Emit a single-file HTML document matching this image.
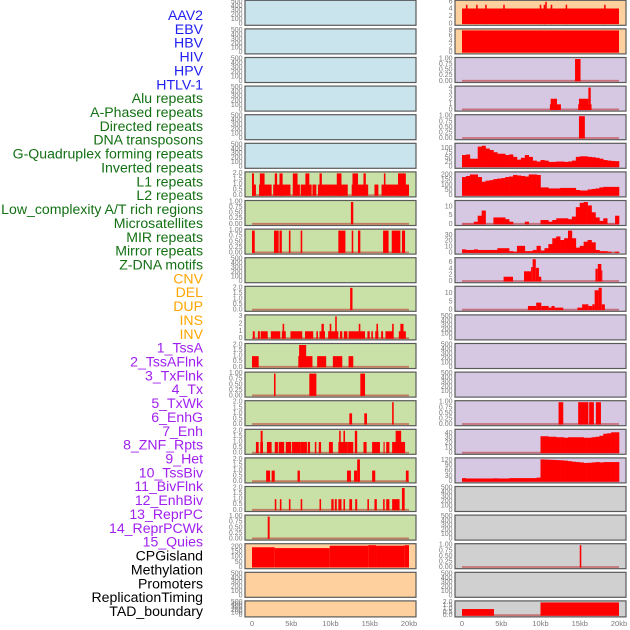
<!DOCTYPE html>
<html><head><meta charset="utf-8"><style>
body{margin:0;background:#fff;}
svg{display:block;font-family:"Liberation Sans",sans-serif;}
</style></head><body>
<svg id="chart" width="630" height="630" viewBox="0 0 630 630" xmlns="http://www.w3.org/2000/svg"></svg>
<script>
// ---------- track labels ----------
const trackLabels = ["AAV2","EBV","HBV","HIV","HPV","HTLV-1","Alu repeats","A-Phased repeats","Directed repeats","DNA transposons","G-Quadruplex forming repeats","Inverted repeats","L1 repeats","L2 repeats","Low_complexity A/T rich regions","Microsatellites","MIR repeats","Mirror repeats","Z-DNA motifs","CNV","DEL","DUP","INS","INV","1_TssA","2_TssAFlnk","3_TxFlnk","4_Tx","5_TxWk","6_EnhG","7_Enh","8_ZNF_Rpts","9_Het","10_TssBiv","11_BivFlnk","12_EnhBiv","13_ReprPC","14_ReprPCWk","15_Quies","CPGisland","Methylation","Promoters","ReplicationTiming","TAD_boundary"];
const labelGroups = [6,13,5,15,5]; // blue, green, orange, purple, black
const labelColors = ["#2020f0","#137013","#ffa500","#a020f0","#000000"];

// ---------- x axis ----------
const xTickValues = [0,5,10,15,20];
const xTickLabels = ["0","5kb","10kb","15kb","20kb"];

// ---------- tick sets ----------
const t500 = [0,100,200,300,400,500];
const t500L = ["0","100","200","300","400","500"];
const t1 = [0,0.25,0.5,0.75,1];
const t1L = ["0.00","0.25","0.50","0.75","1.00"];
const t2 = [0,0.5,1,1.5,2];
const t2L = ["0.0","0.5","1.0","1.5","2.0"];

// ---------- left column segment data [startKb, endKb, value] ----------
const segAlu = [[0,0.5,1],[0,0.25,2],[0.9,2.5,1],[1.0,1.6,2],[2.7,4.9,1],[2.9,3.2,2],[3.5,3.9,2],[5.2,6.1,1],[5.2,5.8,2],[6.2,7.6,1],[6.8,7.3,2],[7.7,8.2,1],[8.4,12.2,1],[8.6,8.9,2],[10.8,11.4,2],[12.7,14.8,1],[12.8,13.5,2],[14.2,14.5,2],[15.6,16.1,1],[16.5,20,1],[16.8,17.0,2],[18.6,19.6,2]];
const segLowComp = [[12.6,12.9,1]];
const segMicro = [[0,0.35,1],[2.8,3.4,1],[3.5,3.8,1],[4.7,4.9,1],[6.2,6.4,1],[11,11.9,1],[12.7,12.9,1],[13.5,13.8,1],[16.7,17.4,1],[17.8,18.9,1],[19.1,19.5,1]];
const segMirror = [[12.5,12.8,2]];
const segZdna = [[0.1,0.35,1],[0.75,1,1],[1.1,2,1],[2.4,3.6,1],[3.8,4.3,1],[3.9,4.1,2],[4.9,6.4,1],[6.75,7.8,1],[8.2,8.4,1],[8.6,9.3,1],[8.85,9.15,2],[9.7,11,1],[9.9,10.1,2],[10.6,10.8,3],[11.2,11.5,1],[11.7,12.15,1],[12.3,14.4,1],[13.6,13.8,2],[14.7,15,1],[15.2,15.4,1],[15.7,16.1,1],[15.85,16.05,2],[16.45,16.7,1],[17,18,1],[17.85,18.05,2],[18.7,19.6,1],[18.9,19.3,2]];
const segCNV = [[0,0.85,1],[5.9,7.7,1],[6,6.9,2],[8.3,9.45,1],[10.3,11.5,1],[12.3,12.9,1]];
const segDEL = [[2.8,3.0,1],[7.3,8.2,1],[13.8,14.4,1]];
const segDUP = [[12.4,12.75,1],[14.3,14.65,1],[17.85,18.05,2]];
const segINS = [[0.5,0.85,1],[1.05,1.4,1],[1.1,1.35,2],[1.9,2.5,1],[2.9,3.3,1],[3.4,4.1,1],[4.3,5.0,1],[5.1,6.2,1],[6.2,7.0,1],[7.1,7.4,1],[8.0,8.2,1],[8.5,8.8,1],[9.8,10.3,1],[11,12.2,1],[11.1,11.3,2],[11.65,11.85,2],[12.2,12.9,1],[13.1,13.4,2],[14.2,14.6,1],[15.3,16.3,1],[16.75,16.9,1],[17.1,17.5,1],[17.85,19.5,1],[18.3,19.0,2]];
const segINV = [[1.8,2.3,1],[2.5,2.9,1],[5.8,6.1,1],[12.1,12.6,1],[13,13.4,1],[13.4,13.75,2],[15.3,15.7,1],[19.6,19.95,1]];
const segTssA = [[2.9,3.1,1],[3.55,3.75,1],[4.7,4.9,1],[6.2,6.4,1],[8.6,8.8,1],[10.1,10.4,1],[10.55,10.8,1],[11,11.4,1],[11.65,11.85,1],[12.4,12.75,1],[13.15,13.4,1],[14.7,14.9,1],[15.6,15.9,1],[16.7,16.9,1],[17.1,17.5,1],[17.85,18.8,1],[19.1,19.45,2]];
const segTssAFlnk = [[2,2.25,1]];
const segTxFlnk = [[0,2.9,195],[2.9,9.9,187],[9.9,14.8,210],[14.8,15.8,215],[15.8,19.4,210],[19.4,20,215]];

// ---------- right column data ----------
const segR0 = [[0,20,4.2],[0.5,0.7,5.2],[1.8,2.0,5.2],[2.95,3.15,5.2],[5.25,5.45,5.2],[9.9,10.1,5.2],[10.4,10.6,5.2],[10.6,10.8,6],[11.3,11.5,5.2],[13.2,13.4,5.2],[18.1,18.3,5.2]];
const segR1 = [[0,20,8]];
const segR2 = [[14.4,15.1,1]];
const segR3 = [[11.2,12.6,1],[11.3,12.1,2],[14.8,16.5,1],[14.9,16.1,2],[16.1,16.4,4]];
const segR4 = [[14.9,15.65,1]];
const binsR5 = [65,68,45,45,110,115,100,92,80,72,72,65,68,55,40,50,65,55,35,30,38,35,28,28,30,30,28,30,35,55,58,58,55,53,50,45,38,35,33,32];
const binsR6 = [180,190,205,205,180,135,145,150,160,165,170,180,185,200,195,190,185,205,205,200,80,80,70,70,70,75,75,75,75,55,50,50,60,65,70,80,85,85,85,85];
const binsR7 = [0.3,0.3,0.3,1.5,5,8,0,0,4,4,4,3,1.5,0,0,0,1.5,0,0,0,2.5,2.5,1.5,2.5,3.5,3.5,3.5,3,4.5,10,12.5,13,11,7,4,2,3.5,0.3,0.3,5];
const binsR8 = [6,5,5,6,5,5,5,5,5,8,8,8,3,2,12,12,3,3,5,12,4,8,15,25,28,22,25,38,25,9,12,19,22,18,5,3,3,2,0,2];
const segR9 = [[5.3,6.5,1.5],[7.9,8.8,3.2],[8.8,9.0,4.5],[9.0,9.4,7],[9.4,9.8,4.3],[9.8,10.1,1.5],[17.0,17.3,4],[17.3,17.75,5.5],[17.75,17.85,3.5]];
const segR10 = [[8.4,9.45,2.5],[9.45,10.1,4.5],[10.1,11.05,2.5],[11.05,11.4,1.5],[11.4,11.8,2.5],[11.8,12.9,1.5],[14.7,15.3,1.5],[15.3,16.1,3.5],[16.1,16.6,2.5],[16.6,16.9,3.5],[16.9,17.4,12],[17.4,17.8,13.5],[17.8,18.2,3.5]];
const segR14 = [[12.3,12.9,1],[14.8,16.1,1],[16.2,16.8,1],[17.05,17.7,1]];
const binsR15 = [0,0,0,0,0,0,0,0,0,0,0,0,0,0,0,0,0,0,0,0,34,34,33,33,32,32,31,32,32,32,32,31,31,32,33,35,39,40,42,42];
const binsR16 = [20,18,18,18,18,18,18,18,19,18,18,18,20,20,20,20,20,20,20,23,125,124,123,122,121,120,118,115,112,110,108,105,106,108,110,108,110,110,110,110];
const segR19 = [[15,15.2,1]];
const segR21 = [[0,4.07,1],[10,20,2]];

const BLUE="#c9e4ec", GREEN="#c9e1a7", ORANGE="#fed09e", LAV="#d6c8e2", GRAY="#d0d0d0";

const panels = [
 {c:0,r:0,bg:BLUE,t:t500,tl:t500L,ymax:500},
 {c:0,r:1,bg:BLUE,t:t500,tl:t500L,ymax:500},
 {c:0,r:2,bg:BLUE,t:t500,tl:t500L,ymax:500},
 {c:0,r:3,bg:BLUE,t:t500,tl:t500L,ymax:500},
 {c:0,r:4,bg:BLUE,t:t500,tl:t500L,ymax:500},
 {c:0,r:5,bg:BLUE,t:t500,tl:t500L,ymax:500},
 {c:0,r:6,bg:GREEN,t:t2,tl:t2L,ymax:2,seg:segAlu},
 {c:0,r:7,bg:GREEN,t:t1,tl:t1L,ymax:1,seg:segLowComp},
 {c:0,r:8,bg:GREEN,t:t1,tl:t1L,ymax:1,seg:segMicro},
 {c:0,r:9,bg:GREEN,t:t500,tl:t500L,ymax:500},
 {c:0,r:10,bg:GREEN,t:t2,tl:t2L,ymax:2,seg:segMirror},
 {c:0,r:11,bg:GREEN,t:[0,1,2,3],tl:["0","1","2","3"],ymax:3,seg:segZdna},
 {c:0,r:12,bg:GREEN,t:t2,tl:t2L,ymax:2,seg:segCNV},
 {c:0,r:13,bg:GREEN,t:t1,tl:t1L,ymax:1,seg:segDEL},
 {c:0,r:14,bg:GREEN,t:t2,tl:t2L,ymax:2,seg:segDUP},
 {c:0,r:15,bg:GREEN,t:t2,tl:t2L,ymax:2,seg:segINS},
 {c:0,r:16,bg:GREEN,t:t2,tl:t2L,ymax:2,seg:segINV},
 {c:0,r:17,bg:GREEN,t:t2,tl:t2L,ymax:2,seg:segTssA},
 {c:0,r:18,bg:GREEN,t:t1,tl:t1L,ymax:1,seg:segTssAFlnk},
 {c:0,r:19,bg:ORANGE,t:[0,50,100,150,200],tl:["0","50","100","150","200"],ymax:215,seg:segTxFlnk,nobase:true},
 {c:0,r:20,bg:ORANGE,t:t500,tl:t500L,ymax:500},
 {c:0,r:21,bg:ORANGE,t:t500,tl:t500L,ymax:500},
 {c:1,r:0,bg:ORANGE,t:[0,2,4,6],tl:["0","2","4","6"],ymax:6,seg:segR0,nobase:true},
 {c:1,r:1,bg:ORANGE,t:[0,2,4,6,8],tl:["0","2","4","6","8"],ymax:8,seg:segR1,nobase:true},
 {c:1,r:2,bg:LAV,t:t1,tl:t1L,ymax:1,seg:segR2},
 {c:1,r:3,bg:LAV,t:[0,1,2,3,4],tl:["0","1","2","3","4"],ymax:4,seg:segR3},
 {c:1,r:4,bg:LAV,t:t1,tl:t1L,ymax:1,seg:segR4},
 {c:1,r:5,bg:LAV,t:[0,25,50,75,100],tl:["0","25","50","75","100"],ymax:120,bins:binsR5},
 {c:1,r:6,bg:LAV,t:[0,50,100,150,200],tl:["0","50","100","150","200"],ymax:215,bins:binsR6},
 {c:1,r:7,bg:LAV,t:[0,5,10],tl:["0","5","10"],ymax:13,bins:binsR7},
 {c:1,r:8,bg:LAV,t:[0,10,20,30],tl:["0","10","20","30"],ymax:38,bins:binsR8},
 {c:1,r:9,bg:LAV,t:[0,2,4,6],tl:["0","2","4","6"],ymax:7,seg:segR9},
 {c:1,r:10,bg:LAV,t:[0,5,10],tl:["0","5","10"],ymax:13.5,seg:segR10},
 {c:1,r:11,bg:LAV,t:t500,tl:t500L,ymax:500},
 {c:1,r:12,bg:LAV,t:t500,tl:t500L,ymax:500},
 {c:1,r:13,bg:LAV,t:t500,tl:t500L,ymax:500},
 {c:1,r:14,bg:LAV,t:t1,tl:t1L,ymax:1,seg:segR14},
 {c:1,r:15,bg:LAV,t:[0,10,20,30,40],tl:["0","10","20","30","40"],ymax:45,bins:binsR15},
 {c:1,r:16,bg:LAV,t:[0,30,60,90,120],tl:["0","30","60","90","120"],ymax:125,bins:binsR16},
 {c:1,r:17,bg:GRAY,t:t500,tl:t500L,ymax:500},
 {c:1,r:18,bg:GRAY,t:t500,tl:t500L,ymax:500},
 {c:1,r:19,bg:GRAY,t:t1,tl:t1L,ymax:1,seg:segR19},
 {c:1,r:20,bg:GRAY,t:t500,tl:t500L,ymax:500},
 {c:1,r:21,bg:GRAY,t:t2,tl:t2L,ymax:2,seg:segR21}
];

const NS="http://www.w3.org/2000/svg";
const svg=document.getElementById('chart');
function mk(tag,attrs,parent){const e=document.createElementNS(NS,tag);for(const k in attrs)e.setAttribute(k,attrs[k]);(parent||svg).appendChild(e);return e;}

const colPanelX=[245,455], colX0=[252,462], kbPx=7.85, panelW=171;
function xScale(c,kb){return colX0[c]+kb*kbPx;}
function rowTop(r){return r*28.6+0.3;}
function rowH(r){return r===21?16:25;}

let li=0;
labelGroups.forEach((n,g)=>{for(let k=0;k<n;k++){
  const t=mk('text',{x:203,y:15+li*13.86,'text-anchor':'end','dominant-baseline':'central','font-size':'14.1',fill:labelColors[g]});
  
  
  t.textContent=trackLabels[li];li++;}});

panels.forEach(p=>{
  const g=mk('g',{});
  
  
  const top=rowTop(p.r),h=rowH(p.r);
  const yT=top+1.5,yB=top+h-1.2;
  const ys=v=>yB-(v/p.ymax)*(yB-yT);
  mk('rect',{x:colPanelX[p.c],y:top,width:panelW,height:h,fill:p.bg,stroke:'#5a5a5a','stroke-width':1.2},g);
  p.t.forEach((v,i)=>{
    const t=mk('text',{x:colPanelX[p.c]-2.5,y:ys(v),'text-anchor':'end','dominant-baseline':'central','font-size':'7',fill:'#7a7a7a'},g);
    
    
    t.textContent=p.tl[i];
  });
  if(p.seg||p.bins){
    if(!p.nobase){mk('line',{x1:xScale(p.c,0),x2:xScale(p.c,20),y1:yB-0.5,y2:yB-0.5,stroke:'rgba(190,40,40,0.55)','stroke-width':1.8},g);}
    if(p.seg){p.seg.forEach(s=>{
      const b=mk('rect',{x:xScale(p.c,s[0]),y:ys(s[2]),width:Math.max(1,xScale(p.c,s[1])-xScale(p.c,s[0])),height:yB-ys(s[2]),fill:'#ff0000'},g);
      
      
    });}
    if(p.bins){p.bins.forEach((v,i)=>{
      if(v<=0)return;
      const b=mk('rect',{x:xScale(p.c,i*0.5),y:ys(v),width:xScale(p.c,(i+1)*0.5)-xScale(p.c,i*0.5)+0.3,height:yB-ys(v),fill:'#ff0000'},g);
      
      
    });}
  }
});

[0,1].forEach(c=>{xTickValues.forEach((v,i)=>{
  const t=mk('text',{x:xScale(c,v),y:626,'text-anchor':'middle','font-size':'7.5',fill:'#7a7a7a'});
  
  
  t.textContent=xTickLabels[i];
});});
</script>
</body></html>
